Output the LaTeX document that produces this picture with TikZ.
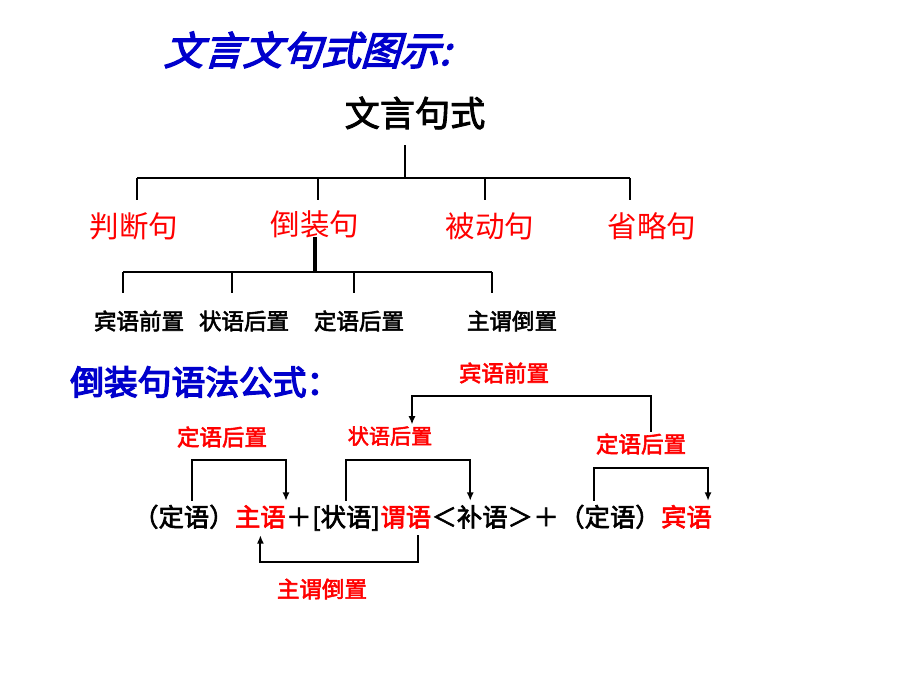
\documentclass[tikz,border=0pt]{standalone}
\usepackage{fontspec}
\newfontfamily\cjk{Noto Sans CJK SC}
\newfontfamily\cjkbold[FakeBold=2.5]{Noto Sans CJK SC}
\newfontfamily\cjktitle[FakeBold=3.5,FakeSlant=0.3]{Noto Sans CJK SC}
\newfontfamily\cjkheavy[FakeBold=4]{Noto Sans CJK SC}
\usepackage{tikz}
\usetikzlibrary{shapes}
\usetikzlibrary{arrows,arrows.meta}
\usetikzlibrary{positioning,calc}
\definecolor{titleblue}{RGB}{0,0,204}

\begin{document}
\begin{tikzpicture}[x=0.025cm, y=-0.025cm]

\tikzset{title/.style = {font=\cjktitle\fontsize{28}{30}\selectfont, text=titleblue, inner sep=0pt}}
\tikzset{head/.style = {font=\cjkbold\fontsize{25}{27}\selectfont, inner sep=0pt}}
\tikzset{cat/.style = {font=\cjk\fontsize{21}{23}\selectfont, text=red, inner sep=0pt}}
\tikzset{sub/.style = {font=\cjkbold\fontsize{16}{18}\selectfont, inner sep=0pt}}
\tikzset{lab/.style = {font=\cjkbold\fontsize{16}{18}\selectfont, text=red, inner sep=1pt}}
\tikzset{formula/.style = {font=\cjkbold\fontsize{18}{20}\selectfont, inner xsep=0pt, inner ysep=3pt, text height=15pt, text depth=3pt}}
\tikzset{tree/.style = {line width=1.8pt}}
\tikzset{edge/.style = {->,> = {Latex[length=6pt,width=5pt]},line width=1.4pt}}

\useasboundingbox (0,0) rectangle (920,690);
\fill[white] (0,0) rectangle (920,690);

% titles
\node[title] (ttl) at (307,50) {文言文句式图示:};
\node[title, font=\cjkheavy\fontsize{24}{26}\selectfont, anchor=west] (ttl2) at (70,382) {倒装句语法公式：};

% tree
\node[head] (wyjs) at (415,113) {文言句式};
\node[cat] (pdj) at (134,226) {判断句};
\node[cat] (dzj) at (315,224) {倒装句};
\node[cat] (bdj) at (490,226) {被动句};
\node[cat] (slj) at (652,226) {省略句};
\node[sub] (byqz) at (139,321) {宾语前置};
\node[sub] (zyhz) at (244,321) {状语后置};
\node[sub] (dyhz) at (359,321) {定语后置};
\node[sub] (zwdz) at (512,321) {主谓倒置};

\coordinate (hub) at (405,178);
\coordinate (l1) at (137,178);
\coordinate (l2) at (318,178);
\coordinate (l3) at (485,178);
\coordinate (l4) at (630,178);
\draw[tree] (hub) -- ++(0,-33);
\draw[tree] (l1) -- (l4);
\foreach \c in {l1,l2,l3,l4} \draw[tree] (\c) -- ++(0,22);

\coordinate (m0) at (315,237);
\coordinate (m1) at (123,272);
\coordinate (m2) at (232,272);
\coordinate (m3) at (354,272);
\coordinate (m4) at (492,272);
\draw[line width=2.4pt] (m0) -- (m0 |- m1);
\draw[tree] (m1) -- (m4);
\foreach \c in {m1,m2,m3,m4} \draw[tree] (\c) -- ++(0,21);

% formula
\node[formula, anchor=west] (f1) at (133,518) {（定语）};
\node[formula, text=red, right=0pt of f1] (zhu) {主语};
\node[formula, right=0pt of zhu] (p1) {＋};
\node[formula, right=0pt of p1] (zhuang) {[状语]};
\node[formula, text=red, right=0pt of zhuang] (wei) {谓语};
\node[formula, right=0pt of wei] (bu) {＜补语＞};
\node[formula, right=0pt of bu] (p2) {＋};
\node[formula, right=0pt of p2] (f2) {（定语）};
\node[formula, text=red, right=0pt of f2] (bin) {宾语};

% labels
\node[lab] (byqzb) at (504,373) {宾语前置};
\node[lab] (dyhza) at (222,437) {定语后置};
\node[lab, font=\cjkbold\fontsize{15}{17}\selectfont] (zyhzb) at (390,436) {状语后置};
\node[lab] (dyhzb) at (641,444) {定语后置};
\node[lab] (zwdzb) at (322,589) {主谓倒置};

% edges
\draw[edge] ($(f1.north)+(8,0)$) -- ++(0,-41) -| (zhu.north east);
\draw[edge] (zhuang.north) -- ++(0,-41) -| ($(bu.north)+(-12,0)$);
\draw[edge] ($(f2.north)+(-16,0)$) -- ++(0,-33) -| ($(bin.north east)+(-4,0)$);
\draw[edge] ($(wei.south)+(12,0)$) -- ++(0,27) -| (zhu.south);
\draw[edge] ($(dyhzb.north)+(10,0)$) -- ++(0,-36) -| ($(zyhzb.north)+(22,0)$);
\end{tikzpicture}
\end{document}
